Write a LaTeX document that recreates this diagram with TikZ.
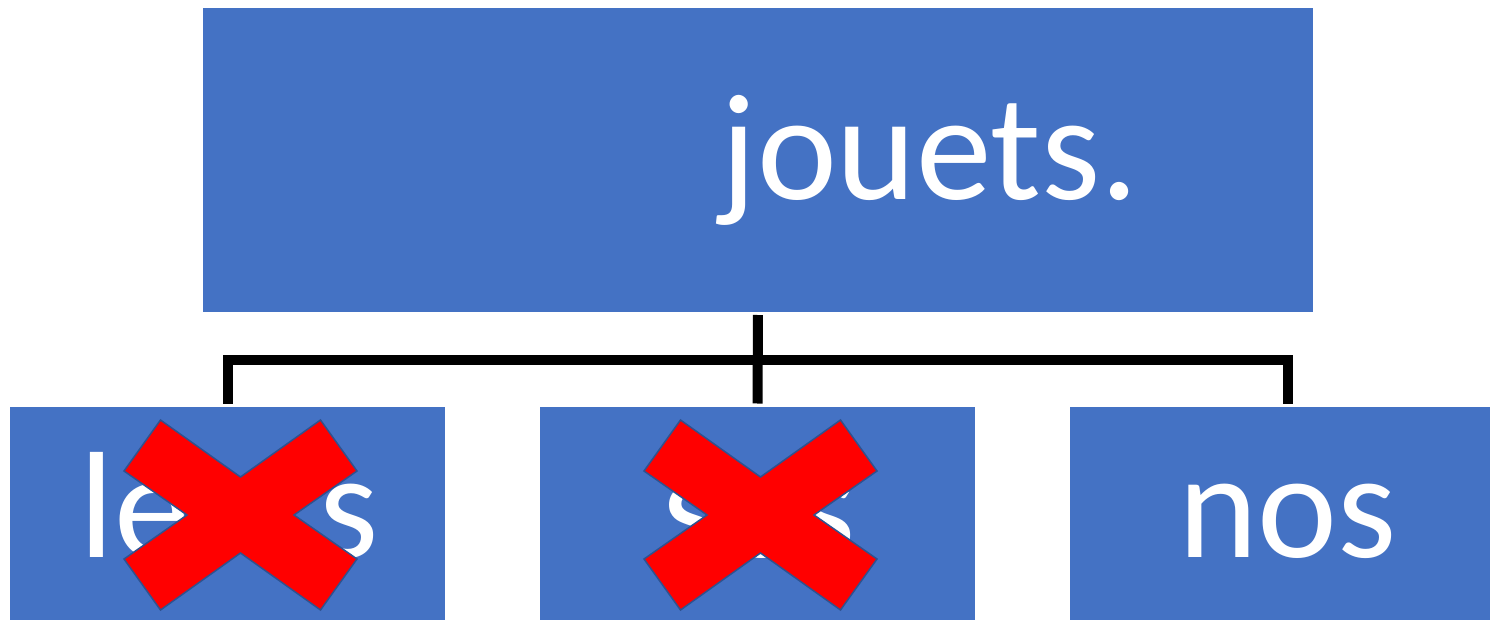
\documentclass[tikz,border=0pt]{standalone}
\usepackage{fontspec}
\setmainfont{Carlito}
\begin{document}
\begin{tikzpicture}[x=1bp,y=-1bp,
  box/.style={fill=boxblue,draw=none,minimum width=1110bp,minimum height=304bp,inner sep=0,outer sep=0},
  sbox/.style={fill=boxblue,draw=none,minimum width=435bp,minimum height=214bp,inner sep=0,outer sep=0},
  word/.style={text=white,inner sep=0,anchor=base,font=\fontsize{152}{152}\selectfont},
  conn/.style={draw=black,line width=10bp,line join=miter,shorten <=3bp,shorten >=3bp},
  pics/redx/.style={code={
    \fill[red,draw=xline,line width=1.5bp,line join=miter]
      (-80,-95) -- (-116.5,-44) -- (-53.5,0) -- (-116.5,44) -- (-80,95) -- (0,38)
      -- (80,95) -- (116.5,44) -- (53.5,0) -- (116.5,-44) -- (80,-95) -- (0,-38) -- cycle;
  }}]
\definecolor{boxblue}{HTML}{4472C4}
\definecolor{xline}{HTML}{2F528F}
\definecolor{red}{HTML}{FF0000}
\useasboundingbox (0,0) rectangle (1490,620);
\clip (0,0) rectangle (1490,620);
\node[box] (top) at (758,160) {};
\node[word] (topt) at (930,200) {jouets.};
\node[sbox] (b1) at (227.5,513.5) {};
\node[sbox] (b2) at (757.5,513.5) {};
\node[sbox] (b3) at (1287.5,513.5) {};
\node[word] (t1) at (229,557) {leurs};
\node[word] (t2) at (759,557) {ses};
\node[word] (t3) at (1287.5,557) {nos};
\coordinate (bar) at (757.5,360);
\draw[conn] (top.south) -- (b2.north);
\draw[conn] (b1.north) |- (bar) -| (b3.north);
\pic at (240.5,515) {redx};
\pic at (760.5,515) {redx};
\end{tikzpicture}
\end{document}
